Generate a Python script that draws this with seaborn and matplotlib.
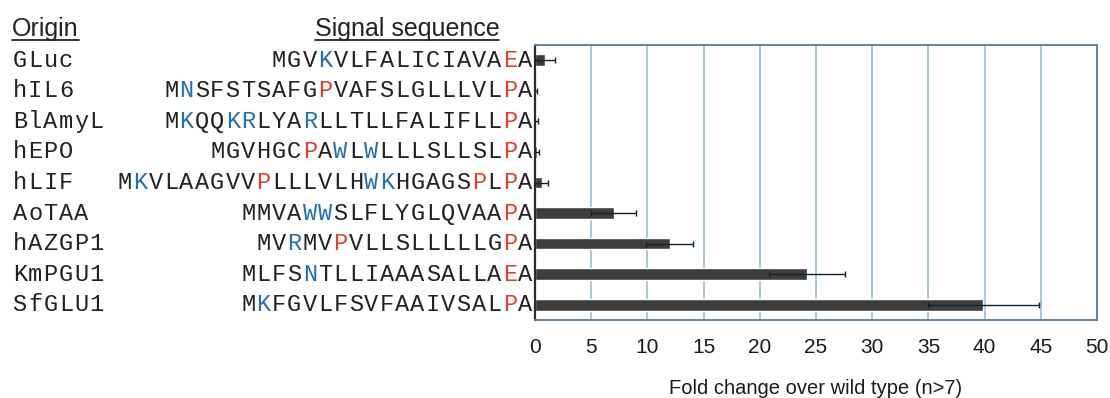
import numpy as np
import seaborn as sns
import matplotlib.pyplot as plt
import matplotlib.transforms as mtransforms
from matplotlib.lines import Line2D

# -------------------------
# Data
# -------------------------
origins = ["GLuc", "hIL6", "BlAmyL", "hEPO", "hLIF",
           "AoTAA", "hAZGP1", "KmPGU1", "SfGLU1"]
sequences = [
    "MGVKVLFALICIAVAEA",
    "MNSFSTSAFGPVAFSLGLLLVLPA",
    "MKQQKRLYARLLTLLFALIFLLPA",
    "MGVHGCPAWLWLLLSLLSLPA",
    "MKVLAAGVVPLLLVLHWKHGAGSPLPA",
    "MMVAWWSLFLYGLQVAAPA",
    "MVRMVPVLLSLLLLLGPA",
    "MLFSNTLLIAAASALLAEA",
    "MKFGVLFSVFAAIVSALPA",
]
# highlighted residues (0-based index in each sequence)
blue_residues = [[3], [1], [1, 4, 5, 9], [8, 10], [1, 16, 17], [4, 5], [2], [4], [1]]
red_residues = [[15], [10, 22], [22], [6, 19], [9, 23, 25], [17], [5, 16], [17], [17]]

fold_change = [0.9, 0.05, 0.1, 0.15, 0.6, 7.0, 12.0, 24.2, 39.9]
fold_err = [0.9, 0.1, 0.15, 0.25, 0.6, 2.0, 2.1, 3.4, 4.9]
x_ticks = [0, 5, 10, 15, 20, 25, 30, 35, 40, 45, 50]

# -------------------------
# Style
# -------------------------
sns.set_style("white")
plt.rcParams["font.family"] = ["Liberation Sans", "DejaVu Sans"]

TEXT = "#222222"
BLUE = "#2271b3"
RED = "#e2402a"
MONO = ["Liberation Mono", "DejaVu Sans Mono"]

fig = plt.figure(figsize=(11.1, 3.98), dpi=100)
W, H = 1110, 398
ax = fig.add_axes([535 / W, 1 - 320 / H, (1097 - 535) / W, (320 - 45) / H])

sns.barplot(x=fold_change, y=origins, orient="h", color="#3d3d3d",
            width=0.38, saturation=1, ax=ax, zorder=2)
ax.errorbar(fold_change, np.arange(len(origins)), xerr=fold_err, fmt="none",
            ecolor="#16202a", elinewidth=1.0, capsize=2.5, capthick=1.0, zorder=3)

ax.set_xlim(0, 50)
ax.set_ylim(len(origins) - 0.5, -0.5)
ax.set_xticks(x_ticks)
ax.xaxis.grid(True, color="#a8c9dc", linewidth=1.4)
ax.set_axisbelow(True)
ax.tick_params(axis="x", length=0, pad=13, labelsize=15, labelcolor="#1a1a1a")
ax.tick_params(axis="y", length=0, labelleft=False)
ax.set_ylabel("")
ax.set_xlabel("Fold change over wild type (n>7)", fontsize=14.5,
              color="#1a1a1a", labelpad=16)

for side in ["top", "right", "bottom"]:
    ax.spines[side].set_color("#5f8499")
    ax.spines[side].set_linewidth(1.4)
ax.spines["left"].set_color("#2b2b2b")
ax.spines["left"].set_linewidth(1.6)

# -------------------------
# Left-hand text columns (one fixed-width cell per character)
# -------------------------
row_tf = mtransforms.blended_transform_factory(fig.transFigure, ax.transData)
fs = 17
cell = 15.4 * 72 / 100  # character pitch in points (~15.4 px)
seq_right = 533 / W
name_left = 12 / W


def put_char(ch, x_fig, row, dx, color):
    ax.annotate(ch, xy=(x_fig, row), xycoords=row_tf,
                xytext=(dx, 0), textcoords="offset points",
                family=MONO, fontsize=fs, color=color,
                ha="center", va="center", annotation_clip=False)


for i, (name, seq) in enumerate(zip(origins, sequences)):
    for j, ch in enumerate(name):
        put_char(ch, name_left, i, (j + 0.5) * cell, TEXT)
    n = len(seq)
    for j, ch in enumerate(seq):
        if j in blue_residues[i]:
            c = BLUE
        elif j in red_residues[i]:
            c = RED
        else:
            c = TEXT
        put_char(ch, seq_right, i, -(n - j - 0.5) * cell, c)

# Column headers, underlined
h1 = fig.text(12 / W, 1 - 36 / H, "Origin", fontsize=18, color=TEXT,
              ha="left", va="baseline")
h2 = fig.text(407 / W, 1 - 36 / H, "Signal sequence", fontsize=18, color=TEXT,
              ha="center", va="baseline")
fig.canvas.draw()
renderer = fig.canvas.get_renderer()
for t in (h1, h2):
    bb = t.get_window_extent(renderer)
    y = (H - 40) / H
    fig.add_artist(Line2D([bb.x0 / W, bb.x1 / W], [y, y], color=TEXT,
                          linewidth=1.3, transform=fig.transFigure))

fig.set_facecolor("white")
fig.savefig("out.png", dpi=100, facecolor="white")
plt.close(fig)
